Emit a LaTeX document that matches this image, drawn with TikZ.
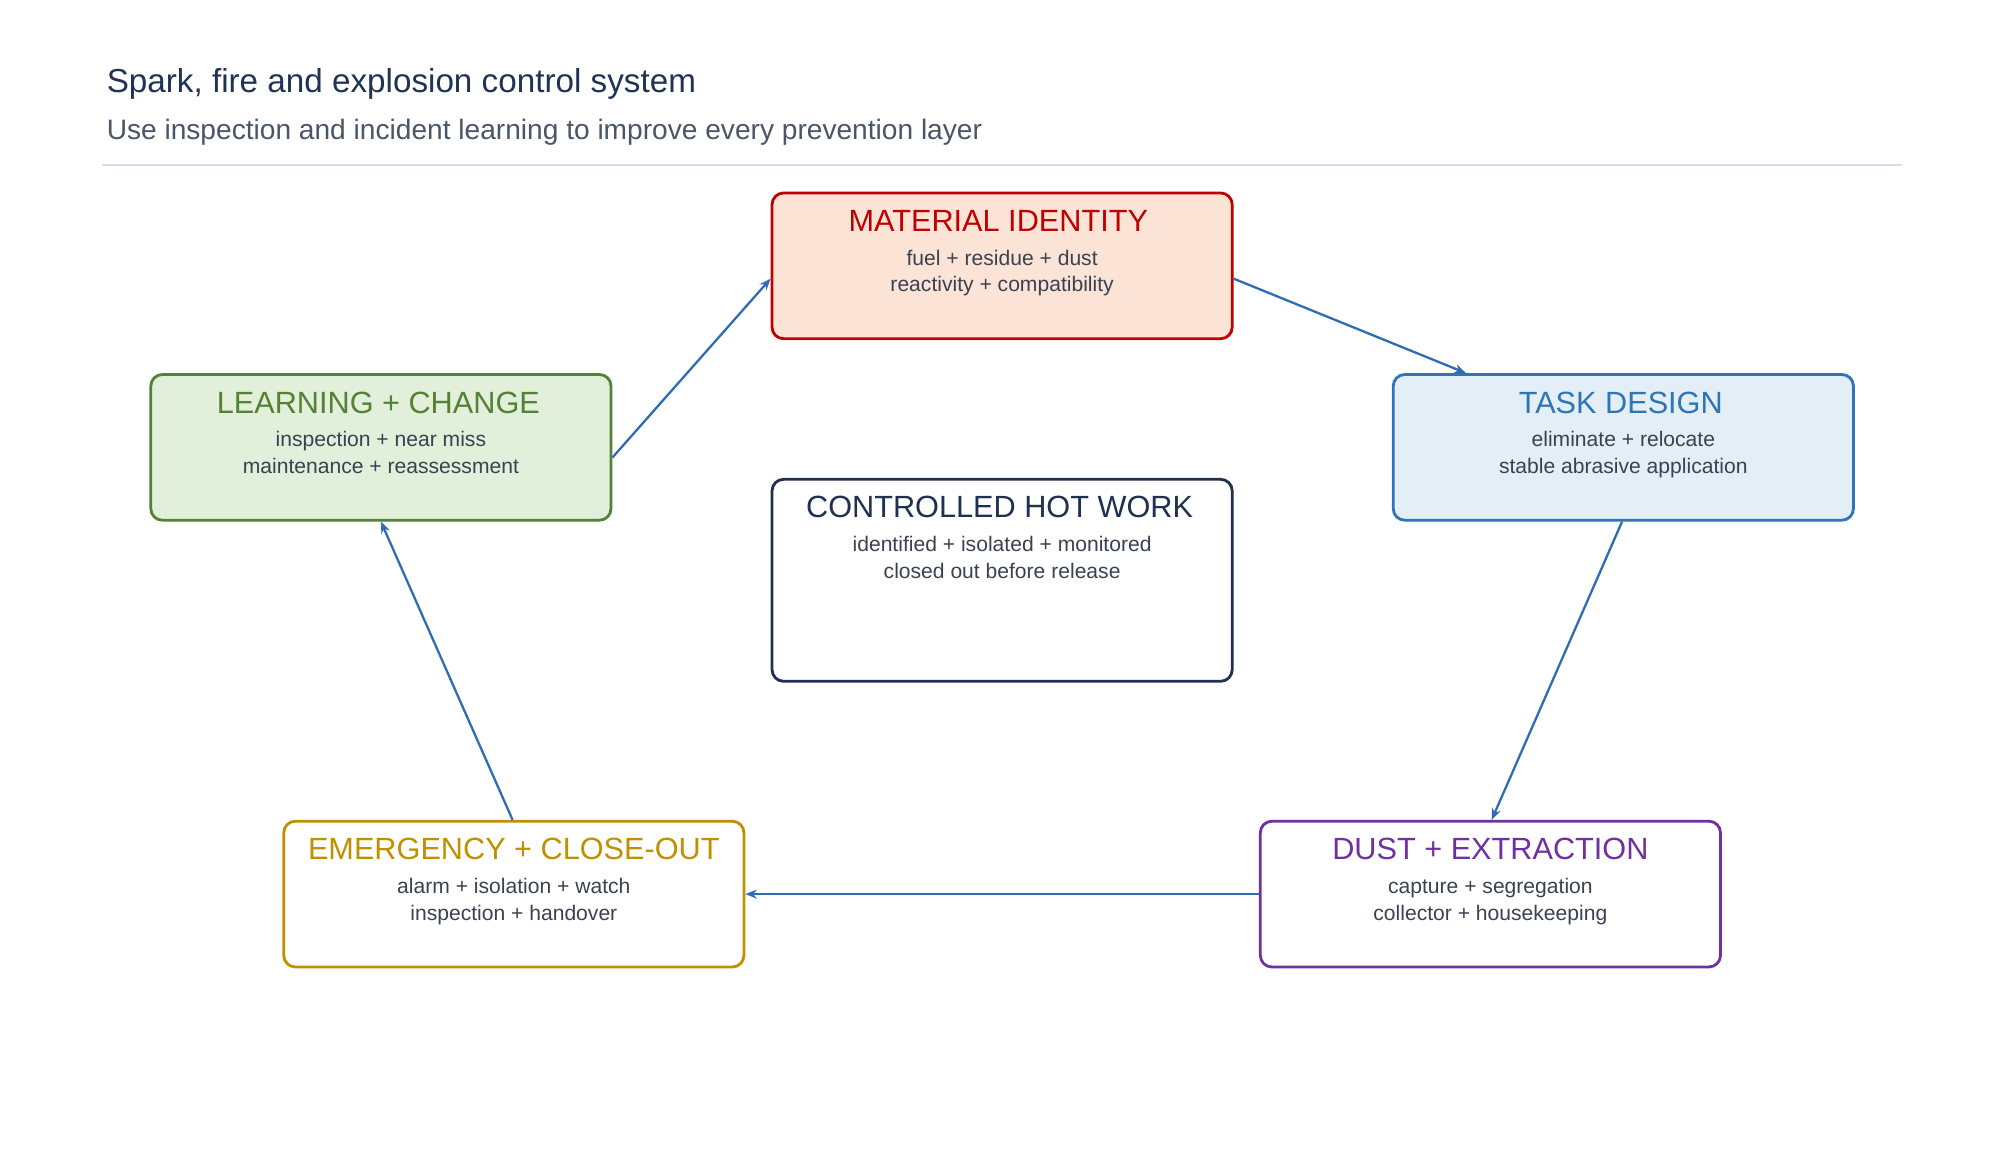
\documentclass[tikz,border=0pt]{standalone}
\usepackage{fontspec}
\setmainfont{Liberation Sans}
\usetikzlibrary{calc,arrows.meta}
\definecolor{ttl}{HTML}{1F3354}
\definecolor{sub}{HTML}{4A5568}
\definecolor{body}{HTML}{3A4252}
\definecolor{rule}{HTML}{D6DBF0}
\definecolor{arr}{HTML}{2E6DB4}
\definecolor{cM}{HTML}{C00000}\definecolor{fM}{HTML}{FBE3D6}
\definecolor{cL}{HTML}{548235}\definecolor{fL}{HTML}{E2EFDA}
\definecolor{cT}{HTML}{2E75B6}\definecolor{fT}{HTML}{E4EEF7}
\definecolor{cC}{HTML}{1F3050}
\definecolor{cE}{HTML}{BF9000}
\definecolor{cD}{HTML}{7030A0}
\tikzset{x=1pt,y=1pt,
box/.style={draw=#1,line width=2.2pt,rounded corners=9pt,minimum width=360pt,minimum height=114pt,inner sep=0pt},
hd/.style={font=\fontsize{24}{28}\selectfont,text=#1,anchor=center},
bd/.style={font=\fontsize{16.5}{21}\selectfont,text=body,align=center,anchor=north},
ar/.style={draw=arr,line width=1.8pt,-{Stealth[length=9pt,width=7pt]}}}
\begin{document}
\begin{tikzpicture}
\useasboundingbox (0,0) rectangle (1560,908);
\node[anchor=base west,font=\fontsize{26}{30}\selectfont,text=ttl] (t) at (80,836) {Spark, fire and explosion control system};
\node[anchor=base west,font=\fontsize{22}{26}\selectfont,text=sub] (s) at (80,799) {Use inspection and incident learning to improve every prevention layer};
\coordinate (r1) at (80,779); \coordinate (r2) at (1488,779);
\draw[rule,line width=1.5pt] (r1)--(r2);
% boxes (centres)
\node[box=cM,fill=fM] (M) at (784,700) {};
\node[box=cL,fill=fL] (L) at (298,558) {};
\node[box=cT,fill=fT] (T) at (1270,558) {};
\node[box=cC,minimum height=158pt] (C) at (784,454) {};
\node[box=cE] (E) at (402,208.5) {};
\node[box=cD] (D) at (1166,208.5) {};
% texts
\node[hd=cM] (Mh) at ($(M.north)+(-3,-23)$) {MATERIAL IDENTITY};
\node[bd] (Mb) at ($(M.north)+(0,-42)$) {fuel + residue + dust\\reactivity + compatibility};
\node[hd=cL] (Lh) at ($(L.north)+(-2,-23)$) {LEARNING + CHANGE};
\node[bd] (Lb) at ($(L.north)+(0,-42)$) {inspection + near miss\\maintenance + reassessment};
\node[hd=cT] (Th) at ($(T.north)+(-2,-23)$) {TASK DESIGN};
\node[bd] (Tb) at ($(T.north)+(0,-42)$) {eliminate + relocate\\stable abrasive application};
\node[hd=cC] (Ch) at ($(C.north)+(-2,-23)$) {CONTROLLED HOT WORK};
\node[bd] (Cb) at ($(C.north)+(0,-42)$) {identified + isolated + monitored\\closed out before release};
\node[hd=cE] (Eh) at ($(E.north)+(0,-23)$) {EMERGENCY + CLOSE-OUT};
\node[bd] (Eb) at ($(E.north)+(0,-42)$) {alarm + isolation + watch\\inspection + handover};
\node[hd=cD] (Dh) at ($(D.north)+(0,-23)$) {DUST + EXTRACTION};
\node[bd] (Db) at ($(D.north)+(0,-42)$) {capture + segregation\\collector + housekeeping};
% arrows
\coordinate (a1) at ($(M.east)+(0,-10)$);
\coordinate (a2) at ($(T.north west)+(58,0)$);
\draw[ar] (a1) -- (a2);
\coordinate (a3) at ($(T.south)+(-1,0)$);
\coordinate (a4) at ($(D.north)+(1,0)$);
\draw[ar] (a3) -- (a4);
\draw[ar] (D.west) -- (E.east);
\coordinate (a5) at ($(E.north)+(-1,0)$);
\draw[ar] (a5) -- (L.south);
\coordinate (a6) at ($(L.east)+(0,-8)$);
\coordinate (a7) at ($(M.west)+(0,-10)$);
\draw[ar] (a6) -- (a7);
\end{tikzpicture}
\end{document}
